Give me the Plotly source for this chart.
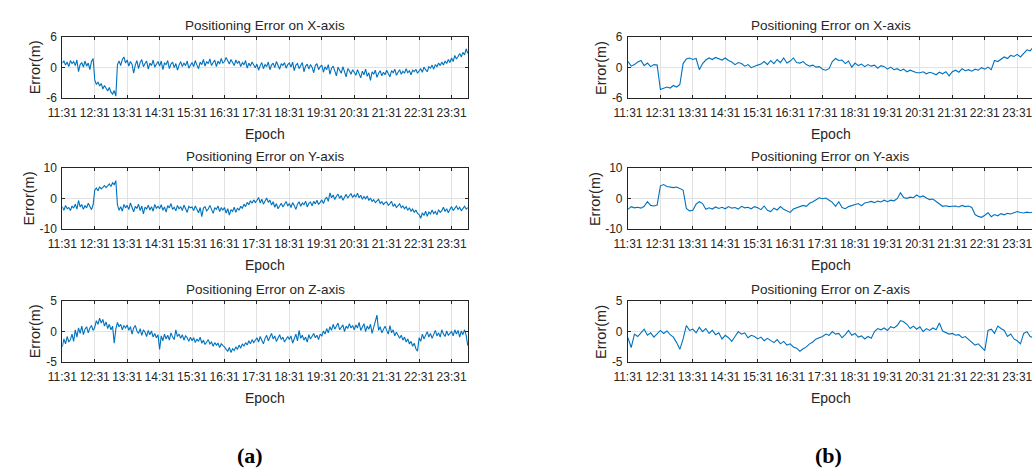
import numpy as np
import plotly.graph_objects as go

W, H = 1032, 474

# ---------------- data ----------------
tick_labels = ["11:31", "12:31", "13:31", "14:31", "15:31", "16:31", "17:31",
               "18:31", "19:31", "20:31", "21:31", "22:31", "23:31"]
step_a_min = 3
step_b_min = 6

# Panel (a)  (one line = one hour, 20 samples)
err_x_a = [0.9, 1.3, 0.5, 1.1, 0.2, 1.4, 0.8, 1.2, 0.4, 1.5, -0.8, 0.6, 1.0, 0.1, 1.3, 0.3, 0.9, -0.4, 1.2, 1.8,
           -2.4, -3.3, -2.8, -3.6, -3.1, -4.2, -3.5, -4.0, -4.6, -3.9, -4.8, -5.2, -4.5, -5.6, 0.6, 1.3, 0.4, 1.6, 2.1, 0.9,
           1.5, 0.3, 1.2, 0.7, -1.1, 0.5, 1.4, -0.2, 1.0, 1.6, 0.2, 0.8, 1.3, -0.3, 0.9, 0.4, 1.5, 0.1, 0.7, 1.2,
           0.3, 1.3, -0.4, 0.9, 0.6, 1.4, -0.2, 0.7, 1.1, 0.0, 0.8, -0.5, 0.5, 1.2, 0.2, 0.9, 0.4, 1.3, -0.1, 0.6,
           1.0, 0.2, 1.4, 0.5, -0.2, 1.1, 0.6, 1.6, 0.3, 1.2, 0.8, 1.7, 0.4, 1.0, 1.5, 0.2, 1.3, 0.7, 1.8, 0.9,
           1.2, 2.0, 1.4, 0.7, 1.6, 1.1, 0.4, 1.5, 0.8, 1.3, 0.2, 1.0, 0.6, 1.4, -0.1, 0.9, 0.3, 1.1, 0.5, 0.0,
           0.7, -0.5, 0.4, 1.0, -0.2, 0.6, 0.2, 1.1, -0.4, 0.5, 0.9, 0.0, 1.2, 0.3, -0.3, 0.8, 0.4, 1.0, -0.1, 0.6,
           0.9, 0.1, 1.1, -0.6, 0.5, 0.8, -0.2, 0.4, 1.0, -0.8, 0.3, 0.7, -0.3, 0.6, 0.1, -1.0, 0.4, 0.8, -0.4, 0.2,
           0.5, -0.9, 0.2, -0.4, 0.6, -1.3, -0.1, 0.3, -0.7, -1.6, 0.1, -0.5, -1.1, 0.2, -0.8, -1.8, -0.2, -0.6, -1.3, -0.4,
           -0.9, -1.5, -0.4, -1.2, -2.0, -0.7, -1.4, -0.3, -1.7, -1.0, -2.5, -0.8, -1.3, -0.5, -1.9, -1.1, -0.6, -1.6, -0.9, -1.4,
           -0.5, -1.2, -1.8, -0.6, -1.0, -0.3, -1.5, -0.9, -0.4, -1.3, -0.7, -1.1, -0.2, -1.0, -0.6, -1.4, -0.5, -0.8, -0.3, -1.1,
           -0.6, -0.2, -0.9, 0.1, -0.4, -0.8, 0.2, -0.1, 0.5, -0.3, 0.6, 0.2, 0.9, 0.4, 1.1, 0.5, 1.3, 0.8, 1.6, 1.0,
           1.9, 1.2, 2.4, 1.7, 2.2, 2.8, 2.1, 3.0, 2.5, 3.7, 2.8]

err_y_a = [-2.6, -3.8, -2.2, -3.3, -2.9, -3.9, -2.4, -3.1, -1.8, -3.4, -0.6, -2.7, -1.9, -3.5, -2.3, -3.0, -1.5, -2.8, -3.6, -2.0,
           2.8, 3.5, 2.6, 3.9, 3.2, 3.7, 4.3, 3.6, 4.1, 4.8, 4.0, 5.2, 4.6, 5.9, -2.0, -3.8, -2.6, -4.1, -1.9, -3.0,
           -2.2, -3.6, -1.4, -2.9, -4.3, -2.5, -3.2, -1.8, -3.9, -2.4, -5.0, -2.8, -3.4, -2.1, -3.7, -2.6, -4.1, -1.9, -3.1, -2.5,
           -3.3, -2.0, -3.8, -2.7, -4.4, -2.3, -3.0, -1.6, -3.5, -2.8, -4.0, -2.2, -3.4, -2.6, -3.9, -2.1, -3.2, -4.5, -2.5, -3.0,
           -2.7, -3.9, -2.4, -3.3, -4.6, -2.9, -5.9, -3.1, -2.6, -4.0, -3.4, -2.2, -3.8, -4.8, -2.9, -3.5, -2.4, -4.2, -3.0, -3.7,
           -2.9, -4.7, -3.3, -5.4, -3.6, -4.2, -2.8, -4.5, -3.1, -3.8, -2.5, -3.2, -1.8, -2.6, -1.2, -2.0, -0.7, -1.5, -0.4, -1.3,
           -0.6, 0.4, -1.4, -0.2, -1.8, -0.8, 0.2, -1.2, -0.5, -2.1, -1.0, -2.8, -1.6, -3.3, -2.2, -1.5, -2.7, -1.9, -0.9, -2.4,
           -1.6, -2.9, -1.3, -2.2, -3.5, -1.8, -1.0, -2.5, -1.4, -2.0, -0.8, -2.7, -1.5, -1.1, -2.3, -0.9, -1.7, -0.5, -1.9, -1.2,
           -0.4, -1.6, -0.2, 0.5, -0.9, 1.9, 0.3, 1.2, -0.3, 0.8, 1.5, 0.1, 1.0, -0.5, 0.6, 1.4, 0.2, 0.9, 1.7, 0.4,
           1.2, 0.5, 1.8, 0.3, 1.1, -0.2, 0.7, 0.0, 0.9, -0.6, 0.2, -0.9, -0.3, -1.3, -0.7, -0.2, -1.6, -1.0, -1.9, -1.3,
           -1.1, -2.2, -1.6, -0.9, -2.5, -1.8, -2.9, -2.1, -1.7, -3.0, -2.4, -3.3, -2.6, -3.8, -3.0, -4.1, -3.4, -4.5, -3.7, -4.8,
           -5.2, -6.4, -4.6, -5.5, -4.1, -5.8, -4.4, -5.0, -3.7, -4.9, -4.2, -5.3, -3.6, -4.5, -3.9, -2.8, -4.2, -3.3, -4.6, -3.5,
           -2.6, -3.9, -3.1, -2.4, -3.5, -2.8, -4.0, -3.0, -2.5, -3.4, -2.9]

err_z_a = [-2.5, -1.2, -2.0, -0.8, -1.7, -1.3, -0.4, -1.6, 0.3, -0.9, 0.6, -0.3, 0.9, -0.5, 0.4, 0.8, -0.2, 0.6, 1.0, 0.2,
           0.7, 1.8, 1.2, 2.2, 1.4, 2.0, 0.9, 1.6, 0.5, 1.2, 0.3, 0.9, -1.9, 0.4, 1.5, 0.8, 1.2, 0.3, 1.0, 0.6,
           1.1, 0.2, 0.8, -0.4, 0.6, 1.0, 0.1, -0.3, 0.5, -0.6, 0.3, -0.1, -0.8, 0.2, -0.5, 0.1, -0.9, -0.3, -1.0, -0.5,
           -2.9, -0.7, -1.5, -0.4, -1.2, -0.6, -1.4, -0.2, -0.9, -1.3, 0.3, -0.8, -0.4, -1.1, -0.5, -1.4, -0.7, -1.0, -1.6, -0.9,
           -1.5, -1.0, -1.8, -1.2, -1.6, -0.9, -1.9, -1.4, -2.1, -1.6, -1.3, -2.0, -1.7, -2.4, -1.8, -2.2, -1.9, -2.6, -2.0, -2.3,
           -2.5, -2.9, -3.2, -2.6, -3.4, -2.8, -3.1, -2.5, -2.9, -2.2, -2.7, -2.0, -2.4, -1.8, -2.2, -1.5, -2.0, -1.3, -1.8, -1.4,
           -1.0, -1.7, -0.8, -1.4, -2.0, -1.1, -0.6, -1.5, -0.9, -0.3, -1.2, -0.7, -1.6, -1.0, -0.5, -1.3, -0.9, -1.7, -1.2, -0.8,
           -1.3, -0.7, -1.9, -1.0, -0.4, -1.5, 0.2, -1.1, -0.6, -1.4, -0.9, -1.7, -0.5, -1.2, -0.8, -0.3, -1.0, -0.6, -1.3, -0.4,
           -0.7, 0.1, -0.4, 0.5, -0.2, 0.8, 0.2, 1.2, 0.4, 0.9, 1.4, 0.3, 0.7, 1.1, 0.0, 0.9, 0.5, 1.3, 0.6, 1.0,
           0.3, 1.1, 0.6, 1.5, 0.2, 0.8, 1.3, 0.0, 0.9, 0.4, 1.2, -0.3, 0.7, 1.6, 2.7, 0.2, 0.8, -0.2, 0.5, 0.9,
           0.2, -0.4, 1.0, -0.2, 0.3, -0.7, -0.1, -0.5, -1.1, -0.6, -1.4, -0.9, -1.7, -1.2, -2.0, -1.6, -2.4, -1.9, -2.8, -3.2,
           -1.0, -1.6, -0.4, -1.2, -0.6, 0.0, -0.9, -0.3, -1.1, -0.5, 0.2, -0.7, -0.2, -0.9, 0.3, -0.4, -0.8, 0.1, -0.6, -0.3,
           0.0, -0.7, 0.3, -0.4, 0.2, -0.9, 0.1, -0.5, 0.3, -0.6, -2.3]

# Panel (b)  (one line = one hour, 10 samples)
err_x_b = [1.2, 0.3, 0.6, 1.1, 1.4, 0.4, 0.9, 0.2, 0.6, 0.5,
           -4.3, -4.1, -3.8, -4.0, -3.5, -3.8, -3.3, 0.8, 1.7, 1.9,
           1.6, 1.8, -0.4, 0.8, 1.5, 1.9, 1.6, 2.0, 1.7, 1.5,
           1.9, 1.4, 1.1, 0.6, 1.0, 0.8, 0.3, 0.6, 0.0, 0.3,
           0.5, 0.7, 1.2, 0.6, 1.4, 0.8, 1.6, 1.0, 1.9, 0.9,
           1.3, 1.9, 1.0, 0.9, 1.2, 0.6, 0.3, 0.5, 0.1, 0.2,
           -0.3, -0.5, -0.2, 1.2, 1.8, 1.4, 1.5, 0.8, 1.3, 0.1,
           0.9, 0.4, 0.7, 0.2, 0.6, 0.3, 0.5, -0.1, 0.4, 0.2,
           -0.3, 0.1, -0.4, -0.2, -0.6, -0.3, -0.8, -0.5, -0.7, -1.0,
           -1.0, -0.8, -1.2, -0.9, -1.1, -1.4, -0.9, -1.2, -0.8, -1.6,
           -0.8, -0.5, -0.9, -0.2, -0.6, -0.4, -0.7, -0.3, -0.5, 0.0,
           -0.3, 0.1, -0.4, 1.4, 1.2, 1.7, 2.1, 1.8, 2.4, 2.2,
           2.6, 2.1, 2.9, 3.5, 3.3, 4.1]

err_y_b = [-3.5, -2.6, -3.0, -2.8, -3.1, -2.5, -1.0, -2.2, -2.4, -2.1,
           4.2, 4.6, 4.0, 3.9, 3.6, 3.8, 3.2, 2.8, -3.2, -4.0,
           -3.8, -1.8, -1.0, -1.6, -3.5, -3.0, -3.4, -2.7, -3.2, -2.8,
           -3.3, -2.6, -3.1, -2.9, -3.4, -2.5, -3.0, -2.8, -3.3, -2.6,
           -3.0, -3.6, -2.4, -3.8, -4.2, -3.1, -3.7, -2.6, -3.5, -3.9,
           -4.5, -3.4, -3.0, -2.6, -2.2, -2.5, -1.5, -1.0, -0.3, 0.3,
           0.0, 0.2, -0.5, -1.2, -2.5, -1.0, -2.9, -3.3, -2.6, -2.2,
           -2.0, -1.6, -2.3, -1.4, -1.2, -0.9, -1.3, -0.8, -1.1, -0.5,
           -1.0, -0.5, -0.7, 0.0, 1.9, 0.4, 0.1, 0.5, 0.3, 1.2,
           0.5, 0.9, 0.2, -0.3, -0.1, -0.9, -1.5, -2.5, -2.3, -2.6,
           -2.5, -2.4, -2.7, -2.2, -2.6, -2.4, -2.9, -5.2, -5.8, -6.1,
           -5.4, -4.6, -5.9, -5.2, -5.6, -4.9, -5.3, -4.8, -5.0, -4.6,
           -4.2, -4.5, -4.7, -4.4, -4.6, -4.3]

err_z_b = [-1.0, -2.6, -0.4, -0.8, -0.2, 0.4, -0.6, -0.2, -0.9, -0.3,
           0.2, -0.3, 0.1, -0.5, -0.9, -1.8, -2.9, -1.2, 1.0, 0.2,
           0.4, -0.2, 0.7, 0.0, 0.5, -0.3, 0.2, -0.5, -0.2, -1.2,
           -0.6, -1.0, -1.6, -0.8, 0.0, -0.4, -0.2, -1.0, -0.6, -0.8,
           -1.2, -0.9, -1.5, -1.1, -1.4, -1.8, -1.3, -2.0, -1.6, -2.2,
           -2.0, -2.5, -2.7, -3.2, -2.8, -2.5, -2.0, -1.7, -1.2, -1.0,
           -0.8, -0.4, -0.6, 0.0, -0.4, -0.3, -1.0, -0.5, 0.2, -0.6,
           -0.3, -0.9, -0.7, -1.2, -0.8, -1.1, 0.0, 0.5, 0.3, 0.6,
           0.2, 0.8, 0.6, 1.0, 1.8, 1.6, 1.2, 0.5, 0.9, 0.4,
           0.8, 0.0, 0.5, 0.2, 0.6, 0.3, 1.4, 0.1, -0.2, -0.4,
           -0.3, -0.6, -0.5, -1.0, -0.8, -1.3, -1.8, -2.2, -2.0, -2.6,
           -3.1, 0.2, 0.4, -0.3, 0.9, 0.5, 0.2, -0.8, -0.4, -1.2,
           -1.5, -2.0, -0.3, 0.0, -0.8, -1.0]

titles = ["Positioning Error on X-axis", "Positioning Error on Y-axis",
          "Positioning Error on Z-axis"]
y_limits = [6, 10, 5]
panel_labels = ["(a)", "(b)"]

# ---------------- layout helpers ----------------
def px_x(p):
    return p / W

def px_y(p):
    return 1 - p / H

FONT = "Liberation Sans, Arial, sans-serif"
TXT = "#262626"
LINE = "#0072BD"
GRID = "#e2e2e2"

col_px = [(48, 460), (622, 1032)]            # plot-area left/right in pixels
row_px = [(31, 94), (166, 229), (303, 366)]  # plot-area top/bottom in pixels
hours_per_px = 12 / 395.0
x_max = [(460 - 48) * hours_per_px, (1032 - 622) * hours_per_px]
ylab_off = [28, 34, 28]

series = [[err_x_a, err_y_a, err_z_a], [err_x_b, err_y_b, err_z_b]]
steps = [step_a_min, step_b_min]

fig = go.Figure()
annotations = []
k = 0
for c in range(2):
    for r in range(3):
        k += 1
        xa = "x" if k == 1 else f"x{k}"
        ya = "y" if k == 1 else f"y{k}"
        vals = series[c][r]
        t = np.arange(len(vals)) * steps[c] / 60.0
        fig.add_trace(go.Scatter(x=t, y=vals, mode="lines",
                                 line=dict(color=LINE, width=1.1),
                                 xaxis=xa, yaxis=ya, showlegend=False,
                                 hoverinfo="skip"))
        L, R = col_px[c]
        T, B = row_px[r]
        lim = y_limits[r]
        xkey = "xaxis" if k == 1 else f"xaxis{k}"
        ykey = "yaxis" if k == 1 else f"yaxis{k}"
        fig.layout[xkey] = dict(
            domain=[px_x(L), px_x(R)], anchor=ya, range=[0, x_max[c]],
            tickmode="array", tickvals=list(range(13)), ticktext=tick_labels,
            ticks="inside", ticklen=3, tickcolor="#262626", tickwidth=1,
            showline=True, linecolor="#262626", linewidth=1, mirror="allticks",
            showgrid=True, gridcolor=GRID, gridwidth=1, zeroline=False,
            tickfont=dict(family=FONT, size=12, color=TXT),
            ticklabelstandoff=3, ticklabeloverflow="allow",
        )
        fig.layout[ykey] = dict(
            domain=[px_y(B), px_y(T)], anchor=xa, range=[-lim, lim],
            tickmode="array", tickvals=[-lim, 0, lim],
            ticktext=[str(-lim), "0", str(lim)],
            ticks="inside", ticklen=3, tickcolor="#262626", tickwidth=1,
            showline=True, linecolor="#262626", linewidth=1,
            mirror="allticks" if c == 0 else False,
            showgrid=True, gridcolor=GRID, gridwidth=1, zeroline=False,
            tickfont=dict(family=FONT, size=12, color=TXT),
            ticklabelstandoff=2, ticklabeloverflow="allow",
        )
        cx = (L + (L + 412)) / 2
        annotations.append(dict(text=titles[r], x=px_x(cx), y=px_y(T - 12),
                                xref="paper", yref="paper", showarrow=False,
                                xanchor="center", yanchor="middle",
                                font=dict(family=FONT, size=13.5, color=TXT)))
        annotations.append(dict(text="Epoch", x=px_x(cx), y=px_y(B + 37),
                                xref="paper", yref="paper", showarrow=False,
                                xanchor="center", yanchor="middle",
                                font=dict(family=FONT, size=14, color=TXT)))
        annotations.append(dict(text="Error(m)", x=px_x(L - ylab_off[r]),
                                y=px_y((T + B) / 2), textangle=-90,
                                xref="paper", yref="paper", showarrow=False,
                                xanchor="center", yanchor="middle",
                                font=dict(family=FONT, size=14.5, color=TXT)))

for lbl, cx in zip(panel_labels, [238, 826]):
    annotations.append(dict(text=f"<b>{lbl}</b>", x=px_x(cx), y=px_y(462),
                            xref="paper", yref="paper", showarrow=False,
                            xanchor="center", yanchor="middle",
                            font=dict(family="Liberation Serif, DejaVu Serif, serif",
                                      size=22, color="#000000")))

fig.update_layout(width=W, height=H, margin=dict(l=0, r=0, t=0, b=0),
                  paper_bgcolor="white", plot_bgcolor="white",
                  annotations=annotations)

fig.write_html("out.html")
